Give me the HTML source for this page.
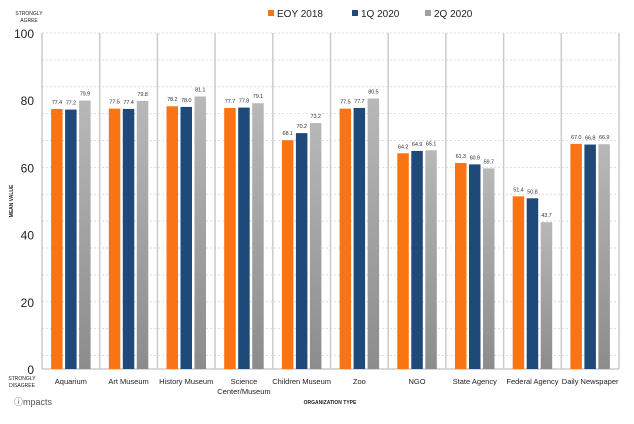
<!DOCTYPE html>
<html><head><meta charset="utf-8"><style>
body{margin:0;background:#fff;font-family:"Liberation Sans",sans-serif}
svg text{font-family:"Liberation Sans",sans-serif}
</style></head><body>
<svg id="c" width="634" height="419">
<defs><linearGradient id="g" x1="0" y1="0" x2="0" y2="1"><stop offset="0" stop-color="#b8b8b8"/><stop offset="1" stop-color="#8c8c8c"/></linearGradient></defs>
</svg>
<script>
const categories=["Aquarium","Art Museum","History Museum","Science|Center/Museum","Children Museum","Zoo","NGO","State Agency","Federal Agency","Daily Newspaper"];
const seriesNames=["EOY 2018","1Q 2020","2Q 2020"];
const eoy2018=[77.4,77.5,78.2,77.7,68.1,77.5,64.2,61.3,51.4,67.0];
const q1_2020=[77.2,77.4,78.0,77.8,70.2,77.7,64.9,60.9,50.8,66.8];
const q2_2020=[79.9,79.8,81.1,79.1,73.2,80.5,65.1,59.7,43.7,66.9];
const yTicks=[0,20,40,60,80,100];
const svg=document.getElementById('c');const NS="http://www.w3.org/2000/svg";
function mk(t,a,p){const e=document.createElementNS(NS,t);for(const k in a)e.setAttribute(k,a[k]);(p||svg).appendChild(e);return e;}
const L=42,R=619,T=33,B=369;
const y=v=>B-(v/100)*(B-T);
const cw=(R-L)/categories.length;
const x=i=>L+i*cw;
for(let v=100;v>0;v-=8){const g=mk('line',{x1:L,x2:R,y1:y(v),y2:y(v),stroke:'#ddd','stroke-dasharray':'2,2'});

}
for(let i=0;i<=categories.length;i++){const s=mk('line',{x1:x(i),x2:x(i),y1:T,y2:B,stroke:'#ccc','stroke-width':1.5});

}
const ax=mk('line',{x1:L,x2:R,y1:B,y2:B,stroke:'#ccc','stroke-width':1.5});


yTicks.forEach(v=>{const t=mk('text',{x:L-8,y:y(v)+5,'text-anchor':'end','font-size':12,fill:'#222'});t.textContent=v;

});
const series=[eoy2018,q1_2020,q2_2020];const colors=['#fa7414','#1f4978','url(#g)'];
const bw=11.5,gap=2.5;
categories.forEach((c,i)=>{
 const cx=x(i)+cw/2;
 series.forEach((s,j)=>{
  const bx=cx+(j-1)*(bw+gap)-bw/2;
  const r=mk('rect',{x:bx,y:y(s[i]),width:bw,height:B-y(s[i]),fill:colors[j]});
  
  
  const t=mk('text',{x:bx+bw/2,y:y(s[i])-5,'text-anchor':'middle','font-size':5.6,'letter-spacing':'-0.15',fill:'#333'});t.textContent=s[i].toFixed(1);
  
  
 });
 const parts=c.split('|');
 parts.forEach((p,k)=>{const t=mk('text',{x:cx,y:384+k*10,'text-anchor':'middle','font-size':7.5,fill:'#222'});t.textContent=p;
 
 });
});
const lx=[268,352,425];
seriesNames.forEach((n,j)=>{
 const r=mk('rect',{x:lx[j],y:10,width:6,height:6,fill:j==2?'#a0a0a0':colors[j]});
 
 
 const t=mk('text',{x:lx[j]+9,y:17,'font-size':10,fill:'#222'});t.textContent=n;
 
 
});
function txt(s,a,name){const t=mk('text',a);t.textContent=s;return t;}
txt('STRONGLY',{x:29,y:15,'text-anchor':'middle','font-size':5,fill:'#222'},'top-anchor-label');
txt('AGREE',{x:29,y:22,'text-anchor':'middle','font-size':5,fill:'#222'},'top-anchor-label');
txt('STRONGLY',{x:22,y:380,'text-anchor':'middle','font-size':5,fill:'#222'},'bottom-anchor-label');
txt('DISAGREE',{x:22,y:387,'text-anchor':'middle','font-size':5,fill:'#222'},'bottom-anchor-label');
txt('MEAN VALUE',{x:0,y:0,'text-anchor':'middle','font-size':5,'font-weight':'bold',fill:'#222',transform:'translate(13,201) rotate(-90)'},'y-axis-title');
txt('ORGANIZATION TYPE',{x:330,y:404,'text-anchor':'middle','font-size':5,'font-weight':'bold',fill:'#222'},'x-axis-title');
txt('ⓘmpacts',{x:14,y:405,'font-size':9,fill:'#555'},'logo');
</script>
</body></html>
